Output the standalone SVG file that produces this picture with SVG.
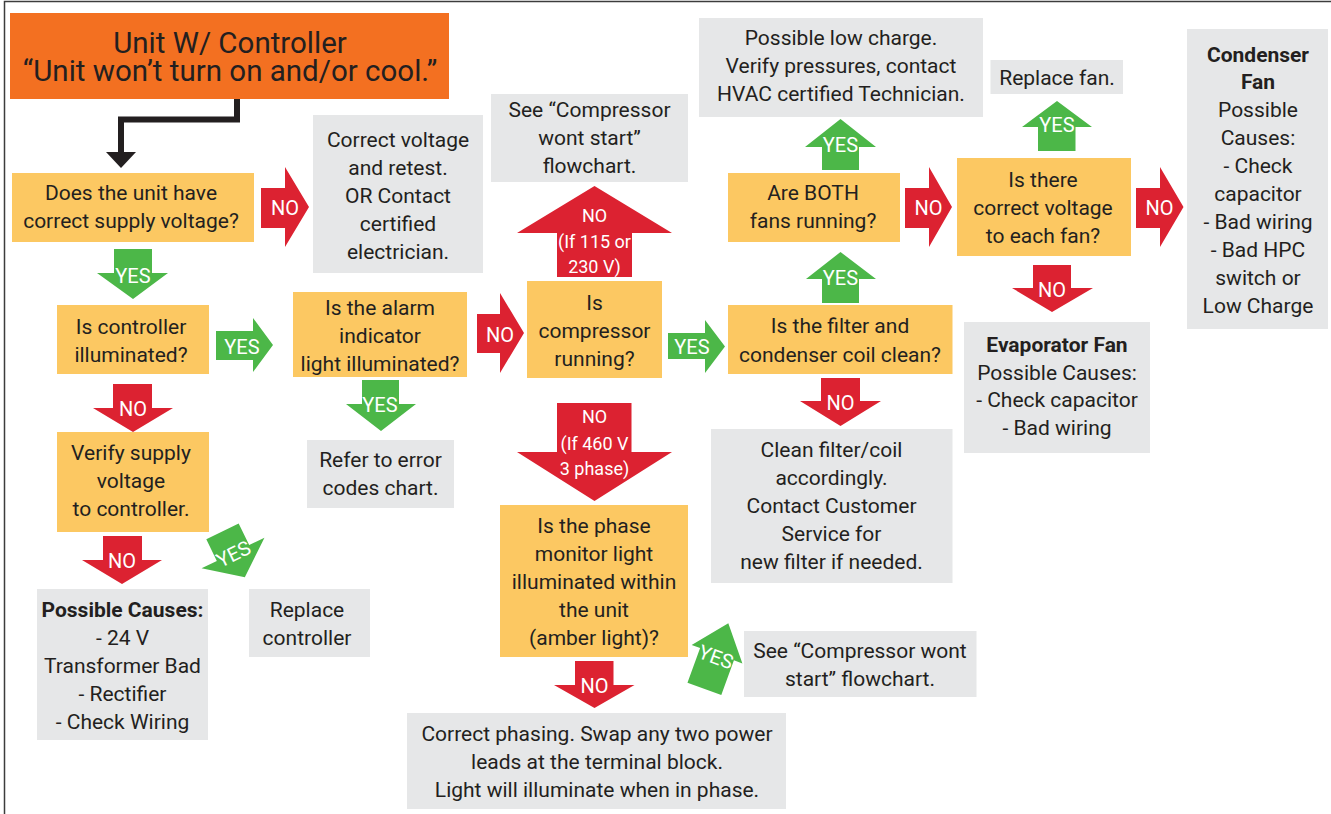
<svg xmlns="http://www.w3.org/2000/svg" width="1331" height="814" viewBox="0 0 1331 814">
<style>
.q{fill:#FCC862}
.g{fill:#E6E7E8}
.r{fill:#DC2231}
.y{fill:#4CB748}
.t{font-family:Roboto,"Liberation Sans",sans-serif;font-size:21px;fill:#231F20;text-anchor:middle}
.b{font-weight:bold}
.h{font-size:29.5px}
.l{font-family:Roboto,"Liberation Sans",sans-serif;font-size:20px;fill:#FFFFFF;text-anchor:middle}
.s{font-size:18px}
</style>
<rect width="1331" height="814" fill="#FFFFFF"/>
<path d="M4.5,814 V1.5 H1331" fill="none" stroke="#3C3C3C" stroke-width="1.5"/>

<g id="connectors">
<path d="M237,99 V119.5 H121 V153" fill="none" stroke="#231F20" stroke-width="6" stroke-linejoin="miter"/>
<polygon points="106,152 136,152 121,168" fill="#231F20"/>
<g id="a-no1"><polygon class="r" points="261,188 285,188 285,167 309,207 285,247 285,228 261,228"/><text class="l" x="285" y="215">NO</text></g>
<g id="a-yes1"><polygon class="y" points="114,249 152,249 152,273 168,273 133,299 97,273 114,273"/><text class="l" x="133" y="283">YES</text></g>
<g id="a-yes2"><polygon class="y" points="216,331 253,331 253,318 273,345 253,372 253,360 216,360"/><text class="l" x="242" y="354">YES</text></g>
<g id="a-yes3"><polygon class="y" points="362,380 399,380 399,404 416,404 381,431 346,404 362,404"/><text class="l" x="380" y="412">YES</text></g>
<g id="a-no2"><polygon class="r" points="113,384 152,384 152,408 173,408 133,432 93,408 113,408"/><text class="l" x="133" y="416">NO</text></g>
<g id="a-no3"><polygon class="r" points="103,536 142,536 142,560 162,560 122,584 82,560 103,560"/><text class="l" x="122" y="568">NO</text></g>
<g id="a-yes4" transform="translate(233,553) rotate(-26)"><polygon class="y" points="-18,-24 18,-24 18,0 35,0 0,27 -35,0 -18,0"/><text class="l" x="0" y="8">YES</text></g>
<g id="a-no4"><polygon class="r" points="477,314 500,314 500,293 524,333 500,373 500,353 477,353"/><text class="l" x="500" y="342">NO</text></g>
<g id="a-no5"><polygon class="r" points="594.5,186 672,233 632,233 632,277 557,277 557,233 517,233"/><text class="l s" x="594.5" y="222">NO</text><text class="l s" x="594.5" y="248">(If 115 or</text><text class="l s" x="594.5" y="273">230 V)</text></g>
<g id="a-yes5"><polygon class="y" points="668,333 705,333 705,320 725,346.5 705,373 705,359 668,359"/><text class="l" x="692" y="354">YES</text></g>
<g id="a-no6"><polygon class="r" points="821,378 860,378 860,401 881,401 840.5,426 800,401 821,401"/><text class="l" x="840.5" y="410">NO</text></g>
<g id="a-yes6"><polygon class="y" points="840.5,252 876,279 859,279 859,303 822,303 822,279 806,279"/><text class="l" x="840.5" y="285">YES</text></g>
<g id="a-yes7"><polygon class="y" points="840.5,119 876,147 859,147 859,170 822,170 822,147 805,147"/><text class="l" x="840.5" y="152">YES</text></g>
<g id="a-no7"><polygon class="r" points="905,188 929,188 929,167 952,207 929,247 929,228 905,228"/><text class="l" x="928.5" y="215">NO</text></g>
<g id="a-yes8"><polygon class="y" points="1057,101 1092,127 1075.5,127 1075.5,151 1038,151 1038,127 1022,127"/><text class="l" x="1057" y="132">YES</text></g>
<g id="a-no8"><polygon class="r" points="1136,188 1160,188 1160,167 1183.5,207 1160,247 1160,228 1136,228"/><text class="l" x="1159.5" y="215">NO</text></g>
<g id="a-no9"><polygon class="r" points="1033,265 1071,265 1071,288 1093,288 1052,312 1012,288 1033,288"/><text class="l" x="1052" y="297">NO</text></g>
<g id="a-no10"><polygon class="r" points="557,403 631.5,403 631.5,452 672,452 594.5,501 517,452 557,452"/><text class="l s" x="594.5" y="423">NO</text><text class="l s" x="594.5" y="450">(If 460 V</text><text class="l s" x="594.5" y="475">3 phase)</text></g>
<g id="a-no11"><polygon class="r" points="575,661 613.5,661 613.5,685 634.5,685 594.5,708 554,685 575,685"/><text class="l" x="594.5" y="693">NO</text></g>
<g id="a-yes9" transform="translate(716,657) rotate(20)"><polygon class="y" points="0,-36 27,-3 18,-3 18,34 -18,34 -18,-3 -27,-3"/><text class="l" x="0" y="7">YES</text></g>
</g>

<g id="title"><rect x="10" y="13" width="439" height="86" fill="#F37021"/><text class="t h" x="230" y="53">Unit W/ Controller</text><text class="t h" x="230" y="81">“Unit won’t turn on and/or cool.”</text></g>

<g id="q-supply"><rect class="q" x="12" y="173" width="242" height="69"/><text class="t" x="131" y="200">Does the unit have</text><text class="t" x="131" y="228">correct supply voltage?</text></g>

<g id="correct-voltage"><rect class="g" x="313" y="115" width="170" height="158"/><text class="t" x="398" y="147">Correct voltage</text><text class="t" x="398" y="175">and retest.</text><text class="t" x="398" y="203">OR Contact</text><text class="t" x="398" y="231">certified</text><text class="t" x="398" y="259">electrician.</text></g>

<g id="q-controller"><rect class="q" x="57" y="305" width="152" height="69"/><text class="t" x="131" y="334">Is controller</text><text class="t" x="131" y="362">illuminated?</text></g>

<g id="q-alarm"><rect class="q" x="293" y="292" width="174" height="85"/><text class="t" x="380" y="315">Is the alarm</text><text class="t" x="380" y="343">indicator</text><text class="t" x="380" y="371">light illuminated?</text></g>

<g id="refer"><rect class="g" x="307" y="440" width="147" height="68"/><text class="t" x="380.5" y="467">Refer to error</text><text class="t" x="380.5" y="495">codes chart.</text></g>

<g id="verify"><rect class="q" x="57" y="432" width="152" height="100"/><text class="t" x="131" y="460">Verify supply</text><text class="t" x="131" y="488">voltage</text><text class="t" x="131" y="516">to controller.</text></g>

<g id="causes"><rect class="g" x="37" y="589" width="171" height="151"/><text class="t b" x="122.5" y="617">Possible Causes:</text><text class="t" x="122.5" y="645">- 24 V</text><text class="t" x="122.5" y="673">Transformer Bad</text><text class="t" x="122.5" y="701">- Rectifier</text><text class="t" x="122.5" y="729">- Check Wiring</text></g>

<g id="replace-controller"><rect class="g" x="249" y="589" width="121" height="68"/><text class="t" x="307" y="617">Replace</text><text class="t" x="307" y="645">controller</text></g>

<g id="see-compressor-1"><rect class="g" x="491" y="94" width="197" height="88"/><text class="t" x="589.5" y="117">See “Compressor</text><text class="t" x="589.5" y="145">wont start”</text><text class="t" x="589.5" y="173">flowchart.</text></g>

<g id="q-compressor"><rect class="q" x="527" y="281" width="135" height="97"/><text class="t" x="594.5" y="310">Is</text><text class="t" x="594.5" y="338">compressor</text><text class="t" x="594.5" y="366">running?</text></g>

<g id="q-phase"><rect class="q" x="500" y="505" width="188" height="152"/><text class="t" x="594" y="533">Is the phase</text><text class="t" x="594" y="561">monitor light</text><text class="t" x="594" y="589">illuminated within</text><text class="t" x="594" y="617">the unit</text><text class="t" x="594" y="645">(amber light)?</text></g>

<g id="correct-phasing"><rect class="g" x="407" y="713" width="379" height="96"/><text class="t" x="597" y="741">Correct phasing. Swap any two power</text><text class="t" x="597" y="769">leads at the terminal block.</text><text class="t" x="597" y="797">Light will illuminate when in phase.</text></g>

<g id="see-compressor-2"><rect class="g" x="744" y="631" width="232.5" height="66"/><text class="t" x="860" y="658">See “Compressor wont</text><text class="t" x="860" y="686">start” flowchart.</text></g>

<g id="q-filter"><rect class="q" x="728" y="305" width="224.5" height="69"/><text class="t" x="840" y="333">Is the filter and</text><text class="t" x="840" y="362">condenser coil clean?</text></g>

<g id="clean"><rect class="g" x="711" y="429" width="241.5" height="154"/><text class="t" x="831.5" y="457">Clean filter/coil</text><text class="t" x="831.5" y="485">accordingly.</text><text class="t" x="831.5" y="513">Contact Customer</text><text class="t" x="831.5" y="541">Service for</text><text class="t" x="831.5" y="569">new filter if needed.</text></g>

<g id="q-both"><rect class="q" x="728" y="173" width="172" height="69"/><text class="t" x="813" y="200">Are BOTH</text><text class="t" x="813" y="228">fans running?</text></g>

<g id="low-charge"><rect class="g" x="699" y="18" width="284" height="99"/><text class="t" x="841" y="45">Possible low charge.</text><text class="t" x="841" y="73">Verify pressures, contact</text><text class="t" x="841" y="101">HVAC certified Technician.</text></g>

<g id="q-voltage-fan"><rect class="q" x="957" y="158" width="174" height="98"/><text class="t" x="1043" y="187">Is there</text><text class="t" x="1043" y="215">correct voltage</text><text class="t" x="1043" y="243">to each fan?</text></g>

<g id="replace-fan"><rect class="g" x="990.5" y="60" width="132.5" height="34"/><text class="t" x="1057" y="85">Replace fan.</text></g>

<g id="condenser"><rect class="g" x="1187" y="29" width="141" height="300"/><text class="t b" x="1258" y="62">Condenser</text><text class="t b" x="1258" y="89">Fan</text><text class="t" x="1258" y="117">Possible</text><text class="t" x="1258" y="145">Causes:</text><text class="t" x="1258" y="173">- Check</text><text class="t" x="1258" y="201">capacitor</text><text class="t" x="1258" y="229">- Bad wiring</text><text class="t" x="1258" y="257">- Bad HPC</text><text class="t" x="1258" y="285">switch or</text><text class="t" x="1258" y="313">Low Charge</text></g>

<g id="evaporator"><rect class="g" x="964" y="322" width="186" height="131"/><text class="t b" x="1057" y="352">Evaporator Fan</text><text class="t" x="1057" y="380">Possible Causes:</text><text class="t" x="1057" y="407">- Check capacitor</text><text class="t" x="1057" y="435">- Bad wiring</text></g>
</svg>
